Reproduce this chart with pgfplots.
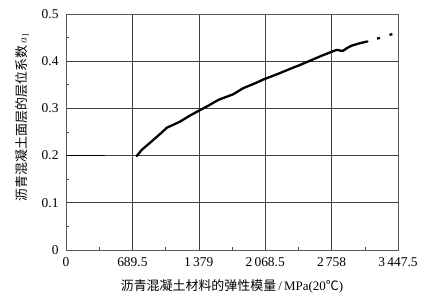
\documentclass[border=0pt]{standalone}
\usepackage{pgfplots}
\pgfplotsset{compat=1.18}
\usepackage{fontspec}
\setmainfont{Liberation Serif}
\newfontfamily\cjk{Noto Sans CJK SC}
\begin{document}
\begin{tikzpicture}
\begin{axis}[
  scale only axis,
  width=332bp, height=236bp,
  xmin=0, xmax=3447.5, ymin=0, ymax=0.5,
  xtick={0,689.5,1379,2068.5,2758,3447.5},
  xticklabels={0,689.5,1\,379,2\,068.5,2\,758,3\,447.5},
  ytick={0,0.1,0.2,0.3,0.4,0.5},
  yticklabels={0,0.1,0.2,0.3,0.4,0.5},
  minor x tick num=1, minor y tick num=1,
  tick pos=left, tick align=inside,
  major tick length=0pt, minor tick length=3bp,
  every tick/.style={black!70, line width=0.6bp},
  grid=major,
  major grid style={black!75, line width=0.6bp},
  axis line style={black!65, line width=0.7bp},
  /pgf/number format/assume math mode=true,
  tick label style={font=\fontsize{13.5}{15}\selectfont},
  yticklabel style={xshift=-4bp},
  xticklabel style={yshift=-4bp},
  xlabel={{\cjk 沥青混凝土材料的弹性模量}\,/\,MPa(20{\cjk ℃})},
  ylabel={{\cjk 沥青混凝土面层的层位系数}\,$a_1$},
  label style={font=\fontsize{13}{15}\selectfont},
  xlabel style={at={(axis description cs:0.5,-0.1525)}, anchor=center},
  ylabel style={at={(axis description cs:-0.1325,0.5636)}, anchor=center, rotate=0},
  clip=false,
]
\addplot[black, line width=0.8bp] coordinates {(0,0.2) (400,0.2)};
\addplot[black, line width=2.3bp, line join=round, line cap=round] coordinates {
(734,0.199) (786,0.212) (900,0.232) (1000,0.250) (1046,0.259) (1100,0.264) (1184,0.272)
(1280,0.284) (1374,0.2945) (1480,0.306) (1582,0.318) (1633,0.322) (1737,0.330)
(1841,0.343) (1950,0.352) (2059,0.362) (2200,0.373) (2330,0.384) (2430,0.392)
(2568,0.404) (2660,0.412) (2759,0.420) (2811,0.424) (2873,0.4216) (2920,0.428)
(2967,0.433) (3050,0.438) (3130,0.4418)};
\addplot[black, line width=2.3bp, dash pattern=on 3bp off 10bp, dash phase=3bp] coordinates {
(3130,0.4418) (3243,0.4485) (3382,0.457) (3410,0.4585)};
\end{axis}
\pgfresetboundingbox
\path ([shift={(-66bp,-50bp)}]current axis.south west) rectangle ([shift={(39bp,14bp)}]current axis.north east);
\end{tikzpicture}
\end{document}
